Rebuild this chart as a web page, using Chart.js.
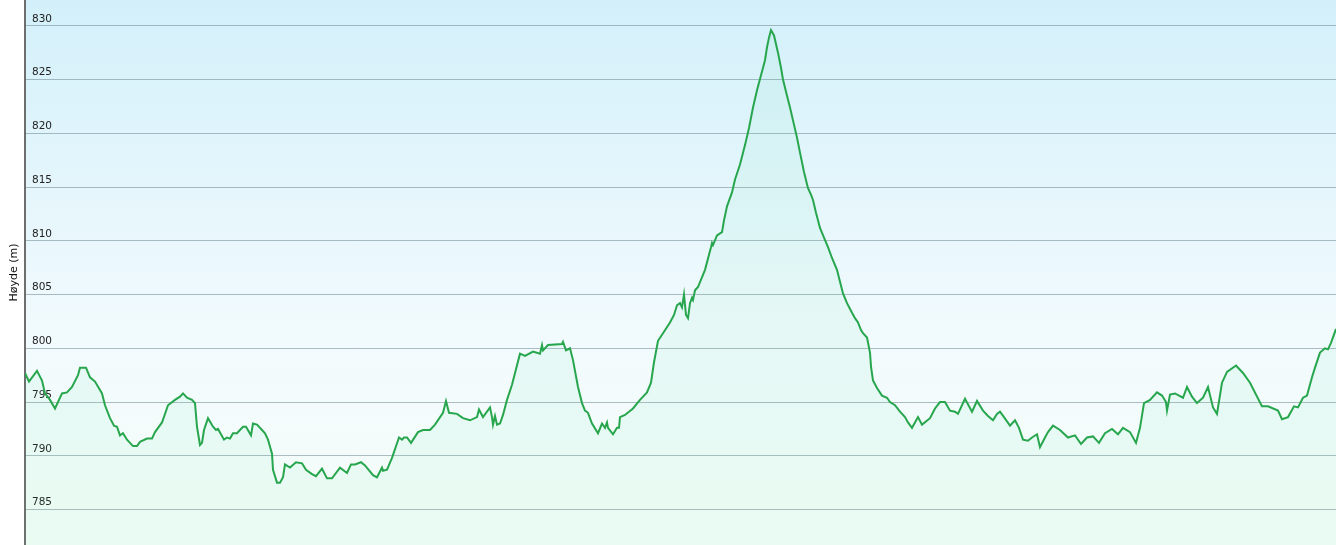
<!DOCTYPE html>
<html>
<head>
<meta charset="utf-8">
<script src="https://cdn.jsdelivr.net/npm/chart.js@4/dist/chart.umd.min.js"></script>
<style>
html,body{margin:0;padding:0;background:#fff;}
#wrap{width:1336px;height:545px;}
</style>
</head>
<body>
<div id="wrap"><canvas id="c" width="1336" height="545"></canvas></div>
<script>
// distance along the route (arbitrary units) and elevation in metres
const distance = [0,4,12,17,20,25,30,37,42,47,53,55,61,65,70,77,80,85,89,92,95,98,102,108,112,115,122,127,130,137,143,150,155,158,162,167,170,172,175,177,179,183,188,191,193,199,202,205,208,212,218,221,226,228,232,237,240,243,247,248,252,255,258,260,265,271,277,281,287,291,297,302,307,315,322,326,330,336,340,348,352,357,358,362,367,374,377,379,382,386,393,398,405,410,418,421,424,432,438,445,452,454,458,465,467,468,470,472,475,478,482,487,495,500,508,515,517,518,523,537,538,541,545,548,553,557,560,563,567,573,577,580,582,583,588,592,594,595,600,608,615,622,626,629,633,638,645,649,652,655,657,659,661,663,665,667,668,670,673,680,686,687,688,692,697,699,702,707,710,715,720,724,728,732,736,740,742,744,746,749,753,756,758,762,765,768,772,775,779,783,786,788,791,795,799,803,807,812,815,818,822,827,830,833,836,838,842,845,846,848,852,857,862,865,870,875,880,883,887,893,897,905,910,915,920,925,930,933,940,947,952,958,963,968,972,975,979,985,990,994,998,1003,1007,1012,1015,1020,1023,1028,1035,1043,1050,1056,1062,1068,1074,1080,1087,1093,1098,1105,1111,1115,1119,1125,1132,1137,1141,1142,1145,1150,1158,1162,1167,1172,1178,1183,1188,1192,1197,1202,1211,1218,1225,1237,1243,1253,1257,1263,1269,1273,1278,1282,1287,1290,1295,1300,1303,1306,1311];
const elevation = [797.7,796.9,797.9,797.0,795.8,795.2,794.4,795.8,795.9,796.4,797.5,798.2,798.2,797.3,796.9,795.8,794.7,793.5,792.8,792.7,791.9,792.1,791.5,790.9,790.9,791.3,791.6,791.6,792.2,793.1,794.7,795.2,795.5,795.8,795.4,795.2,794.9,792.7,791.0,791.2,792.4,793.5,792.7,792.4,792.5,791.5,791.7,791.6,792.1,792.1,792.7,792.7,791.9,793.0,792.9,792.4,792.1,791.5,790.2,788.7,787.5,787.5,788.0,789.2,788.9,789.4,789.3,788.7,788.3,788.1,788.8,787.9,787.9,788.9,788.4,789.2,789.2,789.4,789.1,788.2,788.0,788.9,788.6,788.7,789.8,791.7,791.5,791.7,791.7,791.2,792.2,792.4,792.4,792.9,794.0,795.1,794.0,793.9,793.5,793.3,793.6,794.3,793.6,794.5,793.6,792.9,793.7,792.9,793.0,793.8,795.2,796.6,799.5,799.3,799.7,799.5,800.3,799.8,800.3,800.4,800.6,799.8,800.0,798.9,796.4,794.9,794.2,794.0,793.0,792.1,793.0,792.6,793.1,792.6,792.0,792.6,792.6,793.6,793.8,794.4,795.2,795.9,796.8,798.7,800.7,801.4,802.4,803.1,804.0,804.2,803.8,805.0,803.1,802.8,804.2,804.7,804.5,805.4,805.7,807.3,809.4,809.8,809.6,810.5,810.8,811.9,813.2,814.5,815.7,817.1,818.9,820.5,822.4,824.0,825.4,826.8,828.0,828.9,829.6,829.1,827.5,826.1,825.0,823.5,822.4,821.2,819.6,818.2,816.4,814.9,814.3,813.8,812.6,811.2,810.3,809.4,808.4,807.3,806.2,805.1,804.2,803.3,802.8,802.4,801.7,801.4,801.0,799.6,798.3,797.0,796.3,795.6,795.4,795.0,794.7,794.1,793.6,793.1,792.6,793.6,792.9,793.5,794.4,795.0,795.0,794.2,794.1,793.9,795.3,794.1,795.1,794.2,793.7,793.3,793.9,794.1,793.6,792.8,793.3,792.6,791.5,791.4,791.7,792.0,790.8,791.7,792.2,792.8,792.4,791.7,791.9,791.1,791.7,791.8,791.2,792.1,792.5,792.0,792.6,792.2,791.2,792.6,794.9,795.2,795.9,795.6,795.0,794.2,795.7,795.8,795.4,796.4,795.5,794.9,795.4,796.4,794.5,793.9,796.8,797.8,798.4,797.7,796.8,794.6,794.6,794.2,793.4,793.6,794.6,794.5,795.4,795.6,797.3,798.2,799.6,800.0,799.9,800.5,801.8];
const yTicks = [785,790,795,800,805,810,815,820,825,830];
const yMin = 781.7, yMax = 832.4;
const axisTitle = 'Høyde (m)';

const points = distance.map((d,i)=>({x:d,y:elevation[i]}));

const bgPlugin = {
  id:'bg',
  beforeDraw(chart){
    const {ctx, chartArea:a} = chart;
    const g = ctx.createLinearGradient(0,a.top,0,a.bottom);
    g.addColorStop(0,'#d3f0fa');
    g.addColorStop(0.6,'#f1fafd');
    g.addColorStop(1,'#f6fdf9');
    ctx.save();
    ctx.fillStyle = g;
    ctx.fillRect(a.left,a.top,a.right-a.left,a.bottom-a.top);
    ctx.restore();
  }
};

new Chart(document.getElementById('c'),{
  type:'line',
  data:{datasets:[{
    data:points,
    borderColor:'#27a64d',
    borderWidth:2,
    pointRadius:0,
    tension:0,
    fill:'start',
    backgroundColor:'rgba(90,225,160,0.07)'
  }]},
  options:{
    responsive:false,
    animation:false,
    layout:{padding:0},
    plugins:{legend:{display:false},tooltip:{enabled:false}},
    scales:{
      x:{type:'linear',min:0,max:distance[distance.length-1],display:false},
      y:{
        min:yMin,max:yMax,
        afterBuildTicks(s){ s.ticks = yTicks.map(v=>({value:v})); },
        afterFit(s){ s.width = 25; s.paddingTop = 0; s.paddingBottom = 0; },
        border:{display:true,color:'#6e6e6e',width:2},
        grid:{color:'rgba(95,120,130,0.48)',lineWidth:1,drawTicks:false},
        ticks:{mirror:true,padding:7,labelOffset:-7,color:'#222',font:{family:'DejaVu Sans',size:10.5}},
        title:{display:true,text:axisTitle,color:'#111',font:{family:'DejaVu Sans',size:11},padding:{top:8,bottom:0}}
      }
    }
  },
  plugins:[bgPlugin]
});
</script>
</body>
</html>
